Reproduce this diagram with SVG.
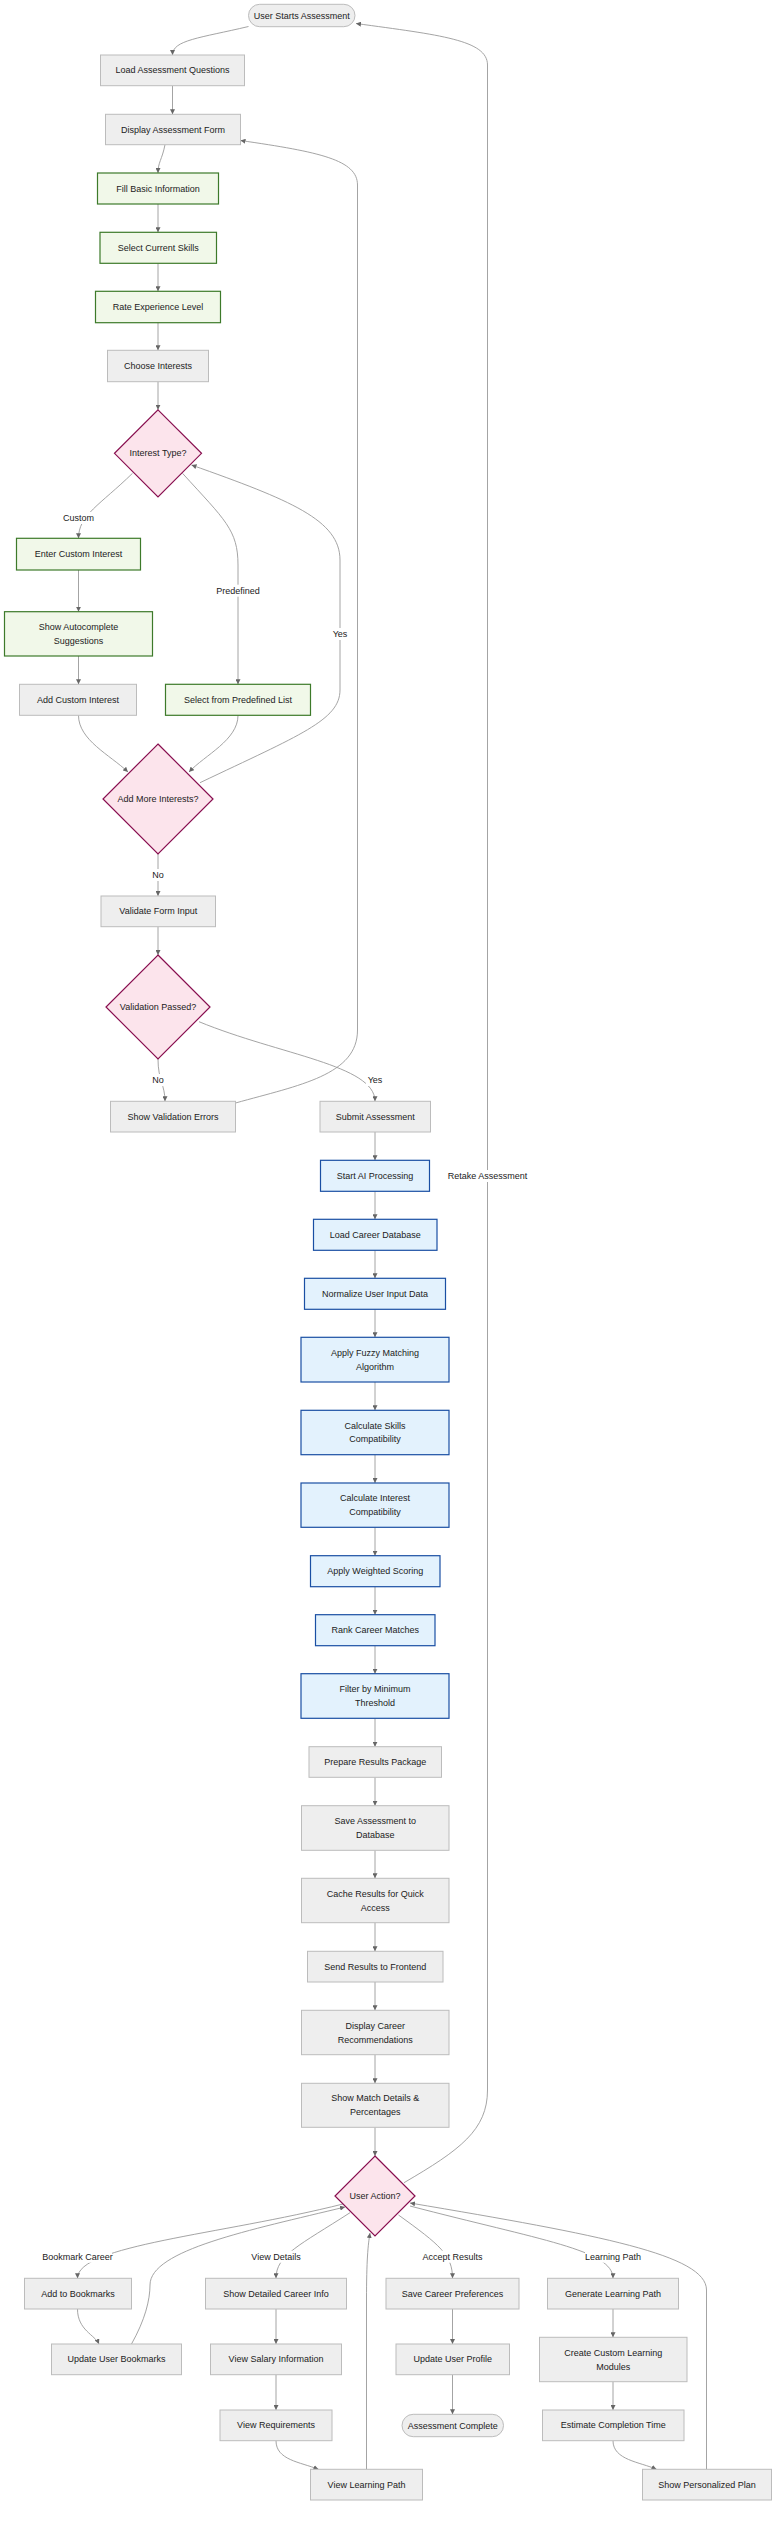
<svg xmlns="http://www.w3.org/2000/svg" width="784" height="2531" viewBox="0 0 784 2531">
<style>
text{font-family:"Liberation Sans",Arial,sans-serif;font-size:9px;fill:#222;text-anchor:middle;dominant-baseline:central}
.g{fill:#eeeeee;stroke:#bcbcbc;stroke-width:1}
.gr{fill:#f1f8e9;stroke:#3d7a2a;stroke-width:1.2}
.bl{fill:#e3f2fd;stroke:#1a4fa3;stroke-width:1.2}
.dm{fill:#fce4ec;stroke:#880e4f;stroke-width:1.2}
.e{fill:none;stroke:#9a9a9a;stroke-width:0.9;marker-end:url(#ah)}
.lb{fill:#ffffff}
</style>
<defs>
<marker id="ah" viewBox="0 0 10 10" refX="10" refY="5" markerWidth="5" markerHeight="5" markerUnits="userSpaceOnUse" orient="auto">
<path d="M0,0 L10,5 L0,10 z" fill="#666"/>
</marker>
</defs>
<rect width="784" height="2531" fill="#ffffff"/>
<g id="edges">
<path class="e" d="M248.5,26.5 C200,38 172.5,40 172.5,55"/>
<path class="e" d="M172.5,85.7 L172.5,114.3"/>
<path class="e" d="M165,144.7 C162,160 158,162 158,173"/>
<path class="e" d="M158,204 L158,232.3"/>
<path class="e" d="M158,263.3 L158,291.3"/>
<path class="e" d="M158,322.7 L158,350.3"/>
<path class="e" d="M158,381.7 L158,409.8"/>
<path class="e" d="M132.5,473.3 C100,505 78.5,515 78.5,538.3"/>
<path class="e" d="M78.5,570 L78.5,611.7"/>
<path class="e" d="M78.5,656 L78.5,684.3"/>
<path class="e" d="M182.5,473.3 C225,520 238,530 238,565 L238,684.3"/>
<path class="e" d="M78.5,715.3 C78.5,740 110,755 128,772"/>
<path class="e" d="M238,715.3 C238,740 205,755 189,772"/>
<path class="e" d="M200,782.7 C300,735 340,720 340,690 L340,560 C340,520 290,500 191.5,465"/>
<path class="e" d="M158,854 L158,896"/>
<path class="e" d="M158,926.7 L158,955"/>
<path class="e" d="M158,1059 C158,1080 165,1085 165,1101.3"/>
<path class="e" d="M199,1021.7 C280,1055 375,1065 375,1101.3"/>
<path class="e" d="M235.5,1103 C300,1085 357.5,1075 357.5,1030 L357.5,185 C357.5,160 320,152 240.5,140.5"/>
<path class="e" d="M375,1132 L375,1160.3"/>
<path class="e" d="M375,1191.3 L375,1219.3"/>
<path class="e" d="M375,1250.3 L375,1278.3"/>
<path class="e" d="M375,1309.3 L375,1337.3"/>
<path class="e" d="M375,1382 L375,1410.3"/>
<path class="e" d="M375,1454.7 L375,1483"/>
<path class="e" d="M375,1527.3 L375,1555.7"/>
<path class="e" d="M375,1586.7 L375,1614.7"/>
<path class="e" d="M375,1645.7 L375,1673.7"/>
<path class="e" d="M375,1718.3 L375,1746.7"/>
<path class="e" d="M375,1777.3 L375,1805.7"/>
<path class="e" d="M375,1850.3 L375,1878.3"/>
<path class="e" d="M375,1922.7 L375,1951.3"/>
<path class="e" d="M375,1982 L375,2010.3"/>
<path class="e" d="M375,2054.7 L375,2083.3"/>
<path class="e" d="M375,2127.3 L375,2156"/>
<path class="e" d="M404,2182.7 C460,2150 487.5,2130 487.5,2090 L487.5,65 C487.5,40 440,35 356,23.5"/>
<path class="e" d="M343,2204 C220,2235 77.5,2245 77.5,2278.3"/>
<path class="e" d="M350,2212.7 C300,2245 276,2255 276,2278.3"/>
<path class="e" d="M398.5,2215 C440,2245 452.5,2255 452.5,2278.3"/>
<path class="e" d="M410,2206 C540,2240 613,2250 613,2278.3"/>
<path class="e" d="M77.5,2309 C77.5,2330 95,2335 99,2344"/>
<path class="e" d="M131.5,2344 C145,2320 150,2300 150,2285 C150,2250 250,2230 345,2207"/>
<path class="e" d="M276,2309 L276,2344"/>
<path class="e" d="M276,2374.7 L276,2410"/>
<path class="e" d="M276,2440.7 C276,2460 300,2462 318.5,2469.3"/>
<path class="e" d="M366.5,2469.3 L366.5,2300 C366.5,2260 368,2245 370,2233"/>
<path class="e" d="M452.5,2309 L452.5,2344"/>
<path class="e" d="M452.5,2374.7 L452.5,2414.3"/>
<path class="e" d="M613,2309 L613,2337.3"/>
<path class="e" d="M613,2381.7 L613,2410"/>
<path class="e" d="M613,2440.7 C613,2460 640,2462 656.5,2469.3"/>
<path class="e" d="M706.5,2469.3 L706.5,2290 C706.5,2255 600,2235 410,2203"/>
</g>
<g id="edge-labels">
<rect class="lb" x="62" y="512" width="33" height="12"/><text x="78.5" y="518">Custom</text>
<rect class="lb" x="215" y="584.7" width="46" height="12"/><text x="238" y="590.7">Predefined</text>
<rect class="lb" x="331" y="628" width="18" height="12"/><text x="340" y="634">Yes</text>
<rect class="lb" x="151" y="869" width="14" height="12"/><text x="158" y="875">No</text>
<rect class="lb" x="151" y="1074" width="14" height="12"/><text x="158" y="1080">No</text>
<rect class="lb" x="366" y="1074" width="18" height="12"/><text x="375" y="1080">Yes</text>
<rect class="lb" x="449" y="1170" width="77" height="12"/><text x="487.5" y="1176">Retake Assessment</text>
<rect class="lb" x="43" y="2250.7" width="69" height="12"/><text x="77.5" y="2256.7">Bookmark Career</text>
<rect class="lb" x="251" y="2250.7" width="50" height="12"/><text x="276" y="2256.7">View Details</text>
<rect class="lb" x="422.5" y="2250.7" width="60" height="12"/><text x="452.5" y="2256.7">Accept Results</text>
<rect class="lb" x="585" y="2250.7" width="56" height="12"/><text x="613" y="2256.7">Learning Path</text>
</g>
<g id="n-start"><rect class="g" x="248.5" y="4.3" width="106.5" height="22.4" rx="11.2"/><text x="301.75" y="15.5">User Starts Assessment</text></g>
<g id="n-load-questions"><rect class="g" x="100.5" y="55" width="144" height="30.7"/><text x="172.5" y="70.3">Load Assessment Questions</text></g>
<g id="n-display-form"><rect class="g" x="105.5" y="114.3" width="135" height="30.4"/><text x="173" y="129.5">Display Assessment Form</text></g>
<g id="n-fill-basic"><rect class="gr" x="97.5" y="173" width="121" height="31"/><text x="158" y="188.5">Fill Basic Information</text></g>
<g id="n-select-skills"><rect class="gr" x="100" y="232.3" width="116.5" height="31"/><text x="158.25" y="247.8">Select Current Skills</text></g>
<g id="n-rate-exp"><rect class="gr" x="95.5" y="291.3" width="125" height="31.4"/><text x="158" y="307">Rate Experience Level</text></g>
<g id="n-choose-interests"><rect class="g" x="107.5" y="350.3" width="101" height="31.4"/><text x="158" y="366">Choose Interests</text></g>
<g id="n-interest-type"><polygon class="dm" points="158,409.8 201.5,453.3 158,496.8 114.5,453.3"/><text x="158" y="453.3">Interest Type?</text></g>
<g id="n-enter-custom"><rect class="gr" x="16.5" y="538.3" width="124" height="31.7"/><text x="78.5" y="554.2">Enter Custom Interest</text></g>
<g id="n-autocomplete"><rect class="gr" x="4.5" y="611.7" width="148" height="44.3"/><text x="78.5" y="626.9">Show Autocomplete</text><text x="78.5" y="640.9">Suggestions</text></g>
<g id="n-add-custom"><rect class="g" x="19.5" y="684.3" width="117" height="31"/><text x="78" y="699.8">Add Custom Interest</text></g>
<g id="n-predefined"><rect class="gr" x="165.5" y="684.3" width="145" height="31"/><text x="238" y="699.8">Select from Predefined List</text></g>
<g id="n-add-more"><polygon class="dm" points="158,744 213,799 158,854 103,799"/><text x="158" y="799">Add More Interests?</text></g>
<g id="n-validate"><rect class="g" x="101" y="896" width="114.5" height="30.7"/><text x="158.25" y="911.3">Validate Form Input</text></g>
<g id="n-valid-passed"><polygon class="dm" points="158,955 210,1007 158,1059 106,1007"/><text x="158" y="1007">Validation Passed?</text></g>
<g id="n-show-errors"><rect class="g" x="110.5" y="1101.3" width="125" height="30.7"/><text x="173" y="1116.7">Show Validation Errors</text></g>
<g id="n-submit"><rect class="g" x="320" y="1101.3" width="110.5" height="30.7"/><text x="375.25" y="1116.7">Submit Assessment</text></g>
<g id="n-start-ai"><rect class="bl" x="320.5" y="1160.3" width="109" height="31"/><text x="375" y="1175.8">Start AI Processing</text></g>
<g id="n-load-db"><rect class="bl" x="313.5" y="1219.3" width="123.5" height="31"/><text x="375.25" y="1234.8">Load Career Database</text></g>
<g id="n-normalize"><rect class="bl" x="304.5" y="1278.3" width="141" height="31"/><text x="375" y="1293.8">Normalize User Input Data</text></g>
<g id="n-fuzzy"><rect class="bl" x="301" y="1337.3" width="148" height="44.7"/><text x="375" y="1353">Apply Fuzzy Matching</text><text x="375" y="1367">Algorithm</text></g>
<g id="n-skills-compat"><rect class="bl" x="301" y="1410.3" width="148" height="44.4"/><text x="375" y="1425.6">Calculate Skills</text><text x="375" y="1439.4">Compatibility</text></g>
<g id="n-interest-compat"><rect class="bl" x="301" y="1483" width="148" height="44.3"/><text x="375" y="1498.2">Calculate Interest</text><text x="375" y="1512.2">Compatibility</text></g>
<g id="n-weighted"><rect class="bl" x="310.5" y="1555.7" width="129.5" height="31"/><text x="375.25" y="1571.2">Apply Weighted Scoring</text></g>
<g id="n-rank"><rect class="bl" x="315.5" y="1614.7" width="119.5" height="31"/><text x="375.25" y="1630.2">Rank Career Matches</text></g>
<g id="n-filter"><rect class="bl" x="301" y="1673.7" width="148" height="44.6"/><text x="375" y="1689">Filter by Minimum</text><text x="375" y="1703">Threshold</text></g>
<g id="n-prepare"><rect class="g" x="309" y="1746.7" width="132.5" height="30.6"/><text x="375.25" y="1762">Prepare Results Package</text></g>
<g id="n-save-db"><rect class="g" x="301.5" y="1805.7" width="147.5" height="44.6"/><text x="375.25" y="1821">Save Assessment to</text><text x="375.25" y="1835">Database</text></g>
<g id="n-cache"><rect class="g" x="301.5" y="1878.3" width="147.5" height="44.4"/><text x="375.25" y="1893.5">Cache Results for Quick</text><text x="375.25" y="1907.5">Access</text></g>
<g id="n-send"><rect class="g" x="307.5" y="1951.3" width="135.5" height="30.7"/><text x="375.25" y="1966.7">Send Results to Frontend</text></g>
<g id="n-display-recs"><rect class="g" x="301.5" y="2010.3" width="147.5" height="44.4"/><text x="375.25" y="2025.5">Display Career</text><text x="375.25" y="2039.5">Recommendations</text></g>
<g id="n-match-details"><rect class="g" x="301.5" y="2083.3" width="147.5" height="44"/><text x="375.25" y="2098.3">Show Match Details &amp;</text><text x="375.25" y="2112.3">Percentages</text></g>
<g id="n-user-action"><polygon class="dm" points="375,2156 415,2196 375,2236 335,2196"/><text x="375" y="2196">User Action?</text></g>
<g id="n-add-bookmarks"><rect class="g" x="24.5" y="2278.3" width="107" height="30.7"/><text x="78" y="2293.7">Add to Bookmarks</text></g>
<g id="n-detailed-info"><rect class="g" x="205.5" y="2278.3" width="141" height="30.7"/><text x="276" y="2293.7">Show Detailed Career Info</text></g>
<g id="n-save-prefs"><rect class="g" x="386" y="2278.3" width="133" height="30.7"/><text x="452.5" y="2293.7">Save Career Preferences</text></g>
<g id="n-gen-path"><rect class="g" x="547.5" y="2278.3" width="131" height="30.7"/><text x="613" y="2293.7">Generate Learning Path</text></g>
<g id="n-update-bookmarks"><rect class="g" x="51.5" y="2344" width="130" height="30.7"/><text x="116.5" y="2359.4">Update User Bookmarks</text></g>
<g id="n-salary"><rect class="g" x="210.5" y="2344" width="131" height="30.7"/><text x="276" y="2359.4">View Salary Information</text></g>
<g id="n-update-profile"><rect class="g" x="396" y="2344" width="113.5" height="30.7"/><text x="452.75" y="2359.4">Update User Profile</text></g>
<g id="n-custom-modules"><rect class="g" x="539.5" y="2337.3" width="147.5" height="44.4"/><text x="613.25" y="2352.5">Create Custom Learning</text><text x="613.25" y="2366.5">Modules</text></g>
<g id="n-requirements"><rect class="g" x="220" y="2410" width="112" height="30.7"/><text x="276" y="2425.4">View Requirements</text></g>
<g id="n-complete"><rect class="g" x="402" y="2414.3" width="101.5" height="22.4" rx="11.2"/><text x="452.75" y="2425.5">Assessment Complete</text></g>
<g id="n-estimate"><rect class="g" x="542.5" y="2410" width="141.5" height="30.7"/><text x="613.25" y="2425.4">Estimate Completion Time</text></g>
<g id="n-view-path"><rect class="g" x="310.5" y="2469.3" width="112" height="30.7"/><text x="366.5" y="2484.7">View Learning Path</text></g>
<g id="n-personal-plan"><rect class="g" x="642.5" y="2469.3" width="129" height="30.7"/><text x="707" y="2484.7">Show Personalized Plan</text></g>
</svg>
